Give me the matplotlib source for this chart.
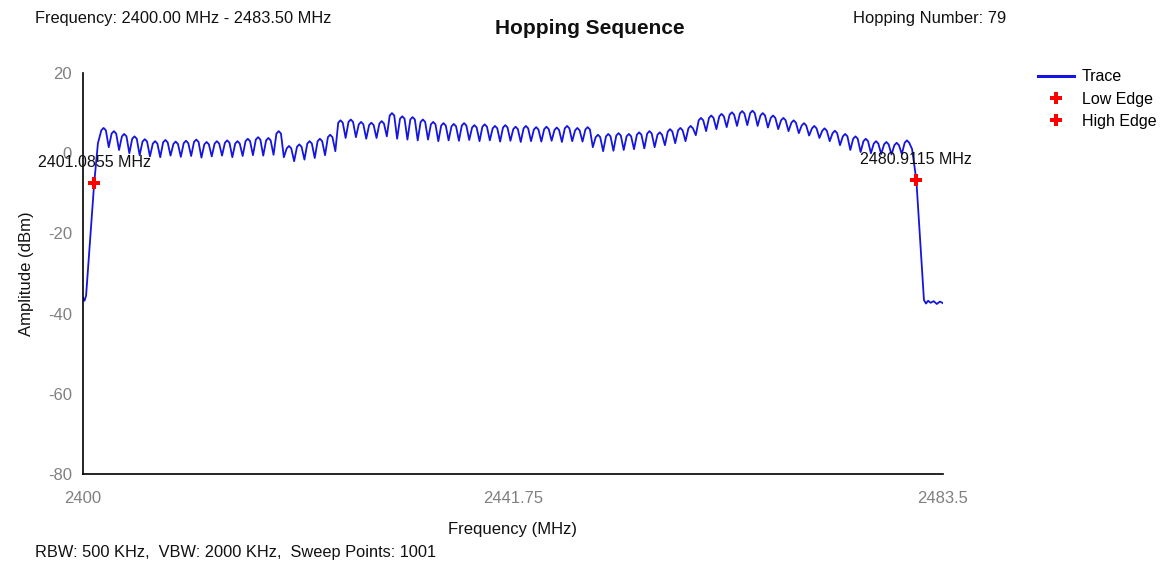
import matplotlib
matplotlib.use("Agg")
import matplotlib.pyplot as plt
import numpy as np

plt.rcParams['font.family'] = ['Liberation Sans', 'DejaVu Sans']
plt.rcParams['axes.unicode_minus'] = False

# ---- data ----
channels = list(range(2402, 2481))  # 79 hopping channels (MHz)
peak_dbm = [6.3, 5.5, 4.8, 4.2, 3.5, 3.0, 3.3, 2.9, 3.1, 3.4,
            2.8, 3.0, 3.2, 3.0, 3.6, 4.0, 3.8, 5.5, 1.8, 2.2,
            3.0, 3.6, 4.6, 8.2, 8.4, 7.8, 7.6, 8.0, 10.0, 9.2,
            9.0, 8.4, 7.8, 7.5, 7.3, 7.5, 7.0, 7.2, 6.8, 7.0,
            6.6, 6.8, 6.5, 6.6, 6.4, 6.8, 6.3, 6.5, 4.6, 4.8,
            5.0, 4.8, 5.2, 5.5, 5.2, 6.0, 6.3, 6.8, 8.8, 9.4,
            9.8, 10.2, 10.5, 10.6, 10.0, 9.4, 8.8, 8.2, 7.5, 6.8,
            6.2, 5.6, 4.8, 4.2, 3.6, 3.0, 2.8, 2.6, 3.2]
trough_dbm = [1.5, 0.8, 0.0, -0.5, -0.8, -1.0, -0.6, -0.9, -0.7, -1.1,
              -0.8, -0.6, -1.0, -0.7, -0.5, -0.6, -0.4, -1.0, -2.0, -1.6,
              -1.2, -0.5, 0.5, 3.8, 4.0, 3.6, 3.8, 4.2, 3.6, 3.4,
              3.2, 3.4, 3.0, 3.2, 3.1, 3.3, 3.0, 3.2, 2.9, 3.1,
              2.8, 3.0, 2.9, 3.1, 2.8, 3.0, 2.9, 1.5, 0.5, 0.6,
              0.8, 1.0, 1.2, 1.5, 2.0, 2.5, 3.0, 4.5, 5.5, 6.0,
              6.5, 6.8, 7.0, 6.8, 6.4, 6.0, 5.5, 5.0, 4.4, 3.8,
              3.0, 2.0, 0.8, 0.3, 0.0, -0.2, -0.3, -0.2]
lead_freq = [2400.0, 2400.15, 2400.3, 2401.0855, 2401.45]
lead_dbm = [-36.0, -36.8, -35.5, -7.5, 2.5]
tail_freq = [2480.5, 2480.9115, 2481.65, 2481.85, 2482.05, 2482.3, 2482.6, 2482.9, 2483.2, 2483.5]
tail_dbm = [1.0, -6.7, -36.6, -37.5, -36.8, -37.3, -36.9, -37.6, -37.0, -37.4]
low_edge = (2401.0855, -7.5)
high_edge = (2480.9115, -6.7)
x_ticks = [2400, 2441.75, 2483.5]
x_tick_labels = ["2400", "2441.75", "2483.5"]
y_ticks = [20, 0, -20, -40, -60, -80]

# ---- build trace ----
fx, fy = list(lead_freq), list(lead_dbm)
for i, c in enumerate(channels):
    p = peak_dbm[i]
    fx += [c - 0.22, c, c + 0.22]
    fy += [p - 0.6, p, p - 0.6]
    if i < len(trough_dbm):
        fx.append(c + 0.5)
        fy.append(trough_dbm[i])
fx += tail_freq
fy += tail_dbm

fig = plt.figure(figsize=(11.67, 5.67), dpi=100)
ax = fig.add_axes([83/1167, 1-474/567, (943-83)/1167, (474-73)/567])

trace_line, = ax.plot(fx, fy, color='#1515e0', lw=1.3, label='Trace')
low_m, = ax.plot([low_edge[0]], [low_edge[1]], ls='none', marker='P', color='red',
                 markersize=8, markeredgewidth=0, label='Low Edge')
high_m, = ax.plot([high_edge[0]], [high_edge[1]], ls='none', marker='P', color='red',
                  markersize=8, markeredgewidth=0, label='High Edge')

for (fq, am) in (low_edge, high_edge):
    ax.annotate(f"{fq:.4f} MHz", xy=(fq, am), xytext=(0, 15), textcoords='offset points',
                ha='center', va='center', fontsize=11.5, color='#111111',
                annotation_clip=False)

ax.set_xlim(2400, 2483.5)
ax.set_ylim(-80, 20)
ax.set_xticks(x_ticks)
ax.set_xticklabels(x_tick_labels)
ax.set_yticks(y_ticks)
ax.tick_params(axis='both', length=0, labelsize=12, colors='#808080')
ax.tick_params(axis='x', pad=12)
ax.tick_params(axis='y', pad=8)
for s in ('top', 'right'):
    ax.spines[s].set_visible(False)
for s in ('left', 'bottom'):
    ax.spines[s].set_color('black')
    ax.spines[s].set_linewidth(1.2)

ax.set_xlabel('Frequency (MHz)', fontsize=12, color='#111111', labelpad=12)
ax.set_ylabel('Amplitude (dBm)', fontsize=12, color='#111111', labelpad=10)

fig.text(590/1167, 1-29/567, 'Hopping Sequence', ha='center', va='center',
         fontsize=15, fontweight='bold', color='#111111')
fig.text(35/1167, 1-18/567, 'Frequency: 2400.00 MHz - 2483.50 MHz', ha='left', va='center',
         fontsize=11.8, color='#111111')
fig.text(853/1167, 1-18/567, 'Hopping Number: 79', ha='left', va='center',
         fontsize=11.9, color='#111111')
fig.text(35/1167, 1-553/567, 'RBW: 500 KHz,  VBW: 2000 KHz,  Sweep Points: 1001', ha='left',
         va='center', fontsize=11.8, color='#111111')

fig.legend(handles=[trace_line, low_m, high_m], loc='upper left',
           bbox_to_anchor=(1032/1167, 1-63/567), frameon=False, fontsize=11.5,
           handlelength=2.2, handletextpad=0.5, labelspacing=0.45, borderaxespad=0)
leg = fig.legends[0]
leg.legend_handles[0].set_linewidth(2.2)

fig.savefig('out.png', dpi=100)
